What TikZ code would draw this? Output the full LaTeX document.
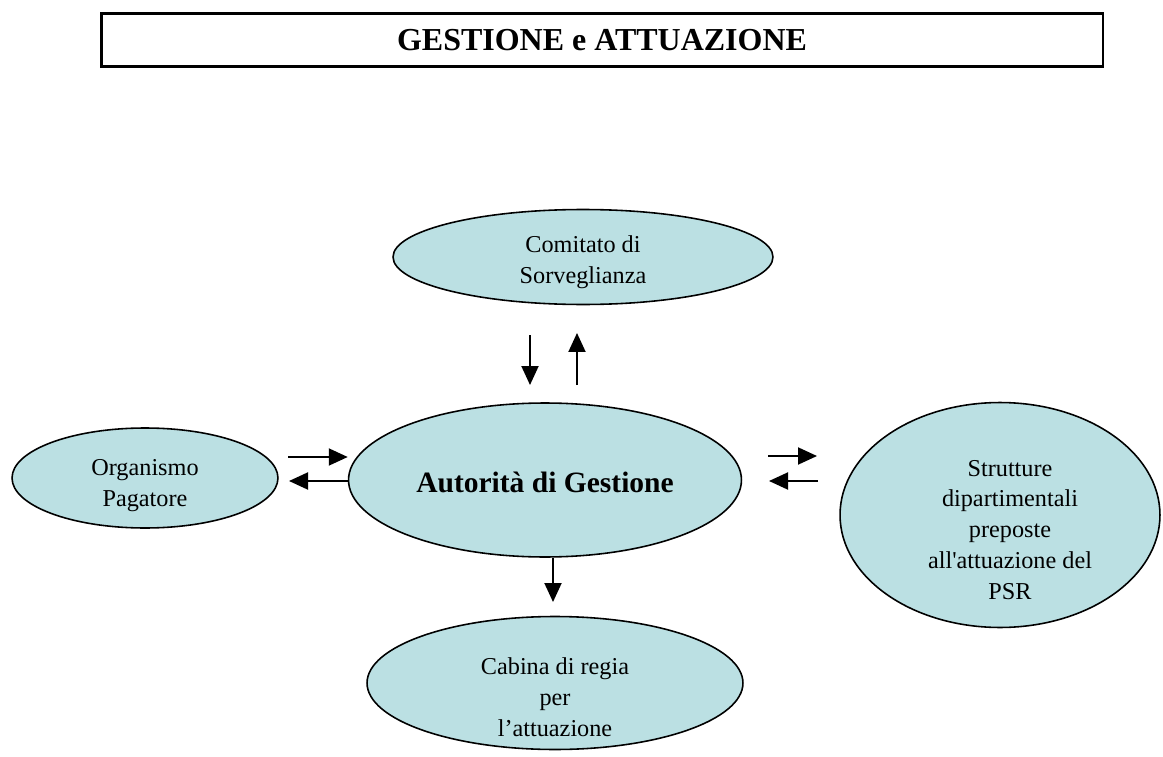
\documentclass[tikz,border=0pt]{standalone}
\usepackage{fontspec}
\setmainfont{Liberation Serif}
\usetikzlibrary{shapes.geometric,arrows.meta}
\definecolor{bubblecol}{RGB}{187,224,227}

\begin{document}
\begin{tikzpicture}[x=0.02cm, y=-0.02cm,
		bubble/.style = {ellipse, draw, line width=0.9pt, fill=bubblecol, inner sep=0pt},
		txt/.style = {align=center, font=\fontsize{13.8}{17.6}\selectfont},
		flow/.style = {line width=1.1pt, -{Triangle[length=0.38cm, width=0.34cm]}}]
		\useasboundingbox (0,0) rectangle (1163,757);
		\node[draw, line width=1.6pt, minimum width=20.04cm, minimum height=1.06cm, font=\fontsize{18.2}{22}\selectfont\bfseries] (title) at (602,40) {GESTIONE e ATTUAZIONE};
		\node[bubble, minimum width=7.6cm, minimum height=1.9cm] (cs) at (583,257) {};
		\node[bubble, minimum width=7.86cm, minimum height=3.08cm] (ag) at (545,480) {};
		\node[bubble, minimum width=5.32cm, minimum height=2.0cm] (op) at (145,478) {};
		\node[bubble, minimum width=6.4cm, minimum height=4.5cm] (sd) at (1000,515) {};
		\node[bubble, minimum width=7.52cm, minimum height=2.66cm] (cr) at (555,683) {};
		\node[txt] (cstxt) at (583,262) {Comitato di\\Sorveglianza};
		\node[font=\fontsize{16.8}{20}\selectfont\bfseries] (agtxt) at (545,482) {Autorità di Gestione};
		\node[txt] (optxt) at (145,486) {Organismo\\Pagatore};
		\node[txt] (sdtxt) at (1010,530) {Strutture\\dipartimentali\\preposte\\all\textquotesingle attuazione del\\PSR};
		\node[txt] (crtxt) at (555,697) {Cabina di regia\\per\\l’attuazione};
		\coordinate (d1) at (530,335); \coordinate (d2) at (530,385);
		\coordinate (u1) at (577,385); \coordinate (u2) at (577,333);
		\coordinate (l1) at (288,457); \coordinate (l2) at (289,481);
		\coordinate (r1) at (768,456); \coordinate (r2) at (817,456);
		\coordinate (r3) at (818,481); \coordinate (r4) at (769,481);
		\draw[flow] (d1) -- (d2);
		\draw[flow] (u1) -- (u2);
		\draw[flow] (l1) -- (l1 -| ag.west);
		\draw[flow] (l2 -| ag.west) -- (l2);
		\draw[flow] (r1) -- (r2);
		\draw[flow] (r3) -- (r4);
		\draw[flow] (ag.south -| 553,0) -- (553,602);
	\end{tikzpicture}
\end{document}
